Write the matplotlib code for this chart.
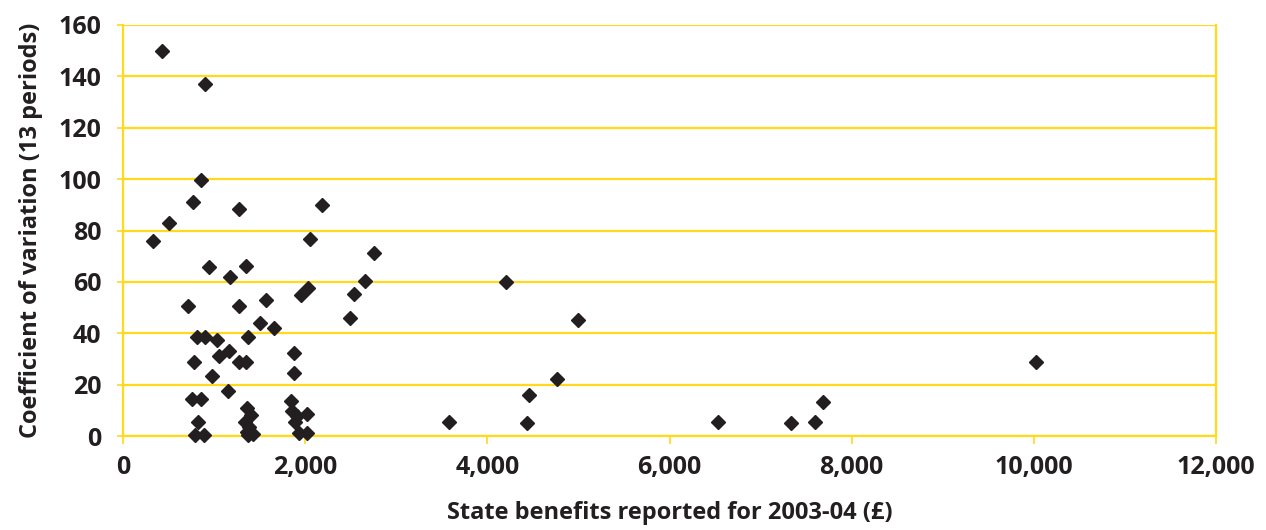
import matplotlib

matplotlib.use("Agg")
import matplotlib.pyplot as plt

# State benefits reported for 2003-04 (GBP) vs coefficient of variation
benefits = [
    425, 904, 854, 769, 505, 1278, 333, 2055, 2187, 945,
    1352, 1176, 2030, 1956, 718, 1278, 1571, 1505, 1659, 813,
    901, 1377, 1030, 1168, 1051, 777, 1275, 1352, 1879, 975,
    1879, 1150, 755, 854, 1843, 1359, 1854, 1403, 2025, 1909,
    828, 1341, 1890, 1388, 1359, 1425, 1370, 791, 890, 1927,
    2025, 2751, 2652, 2535, 2495, 3575, 4205, 5000, 4766, 4454,
    4432, 6535, 7337, 7593, 7689, 10022,
]
variation = [
    150, 137, 99.7, 91, 82.8, 88.4, 76, 76.6, 89.9, 65.9,
    66.1, 62, 57.5, 54.9, 50.6, 50.6, 52.9, 44.1, 41.9, 38.4,
    38.4, 38.6, 37.4, 33.1, 31.1, 28.9, 28.9, 28.9, 32.2, 23.5,
    24.4, 17.6, 14.3, 14.3, 13.7, 10.8, 9.9, 8.2, 8.6, 7.6,
    5.4, 5.6, 5.6, 3.5, 1.5, 0.8, 0.5, 0.4, 0.4, 1.0,
    1.0, 71.1, 60.3, 55.1, 46.0, 5.4, 60.0, 45.1, 22.3, 15.8,
    4.9, 5.6, 5.2, 5.4, 13.2, 28.7,
]
x_ticks = [0, 2000, 4000, 6000, 8000, 10000, 12000]
y_ticks = [0, 20, 40, 60, 80, 100, 120, 140, 160]

YELLOW = "#FFD91A"
INK = "#231F20"

plt.rcParams["font.family"] = ["Open Sans", "DejaVu Sans"]
plt.rcParams["font.weight"] = "bold"

fig = plt.figure(figsize=(12.66, 5.30), dpi=100)
ax = fig.add_axes([123 / 1266, 1 - 436 / 530, (1216 - 123) / 1266, (436 - 25) / 530])

ax.plot(benefits, variation, linestyle="none", marker="D", markersize=6.8,
        color=INK, zorder=3, clip_on=False)

ax.set_xlim(0, 12000)
ax.set_ylim(0, 160)
ax.set_xticks(x_ticks)
ax.set_yticks(y_ticks)
ax.set_xticklabels([f"{v:,}" for v in x_ticks])
ax.yaxis.grid(True, color=YELLOW, linewidth=1.6)
ax.set_axisbelow(True)

for side in ("left", "bottom", "right"):
    ax.spines[side].set_color(YELLOW)
    ax.spines[side].set_linewidth(1.6)
ax.spines["top"].set_visible(False)

ax.tick_params(axis="x", colors=YELLOW, length=5.5, width=1.2, pad=8,
               labelcolor=INK, labelsize=18)
ax.tick_params(axis="y", colors=YELLOW, length=4.5, width=1.2, pad=11,
               labelcolor=INK, labelsize=18)

ax.set_xlabel("State benefits reported for 2003-04 (£)", fontsize=17,
              fontweight="bold", color=INK, labelpad=15)
ax.set_ylabel("Coefficient of variation (13 periods)", fontsize=17,
              fontweight="bold", color=INK, labelpad=11)

fig.savefig("out.png", dpi=100)
